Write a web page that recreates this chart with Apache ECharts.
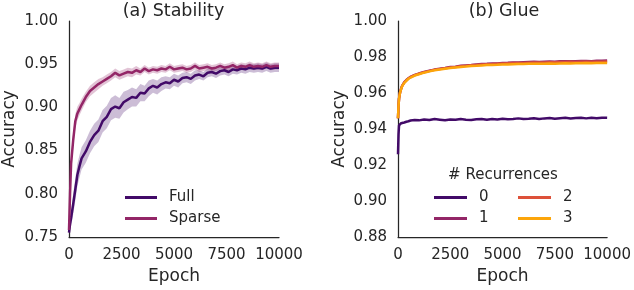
<!DOCTYPE html>
<html><head><meta charset="utf-8">
<script src="https://cdn.jsdelivr.net/npm/echarts@6/dist/echarts.min.js"></script>
<style>html,body{margin:0;padding:0;background:#fff}#c{width:634px;height:290px}</style>
</head><body><div id="c"></div>
<script>
// ---- (a) Stability ----
const epochsA = [0,50,100,200,300,400,500,600,800,
  1000,1200,1400,1600,1800,2000,
  2200,2400,2600,2800,3000,
  3200,3400,3600,3800,4000,
  4200,4400,4600,4800,5000,
  5200,5400,5600,5800,6000,
  6200,6400,6600,6800,7000,
  7200,7400,7600,7800,8000,
  8200,8400,8600,8800,9000,
  9200,9400,9600,9800,10000];
const fullMean = [0.755,0.765,0.772,0.788,0.805,0.822,0.832,0.841,0.849,
  0.860,0.868,0.873,0.884,0.889,0.898,
  0.901,0.899,0.906,0.909,0.912,
  0.911,0.917,0.916,0.922,0.925,
  0.923,0.927,0.929,0.928,0.932,
  0.930,0.934,0.935,0.933,0.937,
  0.938,0.936,0.940,0.941,0.939,
  0.942,0.943,0.941,0.944,0.943,
  0.945,0.944,0.946,0.945,0.946,
  0.945,0.947,0.945,0.946,0.946];
const fullSpread = [0.003,0.006,0.009,0.012,0.013,0.013,0.013,0.013,0.013,
  0.013,0.013,0.013,0.013,0.013,0.013,
  0.013,0.012,0.012,0.011,0.011,
  0.010,0.010,0.009,0.009,0.008,
  0.008,0.008,0.007,0.007,0.007,
  0.007,0.006,0.006,0.006,0.006,
  0.005,0.005,0.005,0.005,0.005,
  0.005,0.005,0.005,0.005,0.005,
  0.005,0.005,0.005,0.005,0.005,
  0.005,0.005,0.005,0.005,0.005];
const sparseMean = [0.758,0.800,0.835,0.862,0.884,0.893,0.898,0.903,0.912,
  0.919,0.923,0.927,0.930,0.933,0.936,
  0.940,0.937,0.939,0.941,0.940,
  0.943,0.941,0.945,0.942,0.944,
  0.943,0.945,0.944,0.947,0.944,
  0.945,0.946,0.944,0.945,0.948,
  0.945,0.946,0.947,0.945,0.946,
  0.948,0.946,0.947,0.949,0.946,
  0.948,0.947,0.949,0.947,0.948,
  0.947,0.949,0.947,0.948,0.948];
const sparseSpread = [0.003,0.008,0.010,0.009,0.008,0.008,0.007,0.007,0.006,
  0.006,0.006,0.006,0.005,0.005,0.005,
  0.005,0.005,0.005,0.005,0.005,
  0.005,0.004,0.004,0.004,0.004,
  0.004,0.004,0.004,0.004,0.004,
  0.004,0.004,0.004,0.004,0.004,
  0.004,0.004,0.004,0.004,0.004,
  0.004,0.004,0.004,0.004,0.004,
  0.004,0.004,0.004,0.004,0.004,
  0.004,0.004,0.004,0.004,0.004];
const legendA = ['Full','Sparse'];
const yTicksA = {min:0.75, max:1.00, step:0.05};

// ---- (b) Glue ----
const epochsB = [0,25,50,100,150,200,300,400,500,600,800,1000,1250,1500,1750,2000,
  2250,2500,2750,3000,3250,3500,3750,4000,4250,4500,4750,5000,5250,5500,5750,6000,
  6250,6500,6750,7000,7250,7500,7750,8000,8250,8500,8750,9000,9250,9500,9750,10000];
const rec0 = [0.926,0.937,0.942,0.9430,0.9432,0.9435,0.9436,0.9440,0.9443,0.9447,0.9450,0.9448,0.9453,0.9450,0.9455,0.9452,
  0.9449,0.9453,0.9451,0.9455,0.9452,0.9450,0.9454,0.9456,0.9452,0.9455,0.9453,0.9457,0.9454,0.9456,0.9459,0.9455,
  0.9457,0.9460,0.9456,0.9459,0.9461,0.9457,0.9460,0.9462,0.9458,0.9461,0.9463,0.9459,0.9462,0.9460,0.9463,0.9462];
const rec1 = [0.946,0.953,0.957,0.9605,0.9625,0.9640,0.9660,0.9672,0.9682,0.9690,0.9700,0.9708,0.9717,0.9724,0.9730,0.9735,
  0.9739,0.9744,0.9746,0.9751,0.9753,0.9755,0.9758,0.9761,0.9762,0.9764,0.9764,0.9767,0.9768,0.9770,0.9769,0.9771,
  0.9772,0.9773,0.9772,0.9774,0.9775,0.9774,0.9776,0.9776,0.9777,0.9776,0.9778,0.9778,0.9777,0.9779,0.9779,0.9780];
const rec2 = [0.946,0.953,0.957,0.9603,0.9623,0.9640,0.9658,0.9671,0.9681,0.9689,0.9699,0.9707,0.9716,0.9722,0.9729,0.9733,
  0.9738,0.9742,0.9745,0.9749,0.9751,0.9754,0.9756,0.9758,0.9760,0.9761,0.9763,0.9764,0.9765,0.9766,0.9767,0.9767,
  0.9768,0.9769,0.9769,0.9770,0.9771,0.9771,0.9772,0.9772,0.9773,0.9772,0.9773,0.9774,0.9773,0.9774,0.9774,0.9775];
const rec3 = [0.946,0.953,0.957,0.9604,0.9622,0.9638,0.9656,0.9668,0.9679,0.9686,0.9697,0.9704,0.9713,0.9720,0.9726,0.9731,
  0.9735,0.9739,0.9742,0.9745,0.9747,0.9750,0.9751,0.9753,0.9755,0.9756,0.9757,0.9759,0.9759,0.9760,0.9761,0.9761,
  0.9762,0.9762,0.9763,0.9763,0.9764,0.9763,0.9764,0.9765,0.9764,0.9765,0.9765,0.9766,0.9765,0.9766,0.9766,0.9766];
const legendB = ['0','1','2','3'];
const yTicksB = {min:0.88, max:1.00, step:0.02};
const xTicks = {min:0, max:10000, step:2500};

const COLORS = ['#420a68','#932667','#dd513a','#fca50a'];
const FONT = 'DejaVu Sans';
const TXT = '#262626';

function pairs(xs, ys){ return xs.map((x,i)=>[x, ys[i]]); }
function lineSeries(name, xs, ys, color, gi, w, z){
  return {type:'line', name, xAxisIndex:gi, yAxisIndex:gi, data:pairs(xs,ys), symbol:'none',
    lineStyle:{color, width:w}, itemStyle:{color}, z, emphasis:{disabled:true}};
}
function bandSeries(xs, m, s, color, gi){
  return {type:'custom', xAxisIndex:gi, yAxisIndex:gi, silent:true, z:1,
    data: xs.map((x,i)=>[x, m[i]-s[i], m[i]+s[i]]), encode:{x:0, y:[1,2]},
    renderItem:(params, api)=>{
      if (params.dataIndex !== 0) return;
      const pts = [];
      for (let i=0;i<xs.length;i++) pts.push(api.coord([xs[i], m[i]+s[i]]));
      for (let i=xs.length-1;i>=0;i--) pts.push(api.coord([xs[i], m[i]-s[i]]));
      return {type:'polygon', shape:{points:pts}, style:{fill:color, opacity:0.27}};
    }};
}
function xAx(gi){
  return {type:'value', gridIndex:gi, min:xTicks.min, max:xTicks.max, interval:xTicks.step,
    axisLine:{show:true, onZero:false, lineStyle:{color:TXT, width:1.25}}, axisTick:{show:false}, splitLine:{show:false},
    axisLabel:{color:TXT, fontSize:15, fontFamily:FONT, margin:11, formatter:v=>String(v)},
    name:'Epoch', nameLocation:'middle', nameGap:31, nameTextStyle:{color:TXT, fontSize:17, fontFamily:FONT}};
}
function yAx(gi, t, gap){
  return {type:'value', gridIndex:gi, min:t.min, max:t.max, interval:t.step,
    axisLine:{show:true, onZero:false, lineStyle:{color:TXT, width:1.25}}, axisTick:{show:false}, splitLine:{show:false},
    axisLabel:{color:TXT, fontSize:15, fontFamily:FONT, margin:11, formatter:v=>v.toFixed(2)},
    name:'Accuracy', nameLocation:'middle', nameGap:gap, nameTextStyle:{color:TXT, fontSize:17, fontFamily:FONT}};
}
const legText = {color:TXT, fontSize:15, fontFamily:FONT, padding:[0,0,0,7]};

const option = {
  animation:false,
  backgroundColor:'#fff',
  grid:[{left:68, top:21, width:211, height:220}, {left:398, top:21, width:212, height:220}],
  xAxis:[xAx(0), xAx(1)],
  yAxis:[yAx(0, yTicksA, 51), yAx(1, yTicksB, 50)],
  legend:[
    {data:legendA, orient:'vertical', left:120, top:185, itemWidth:32, itemHeight:3, itemGap:6, icon:'rect', textStyle:legText},
    {data:legendB.slice(0,2), orient:'vertical', left:429, top:185, itemWidth:33, itemHeight:3, itemGap:6, icon:'rect', textStyle:legText},
    {data:legendB.slice(2,4), orient:'vertical', left:513, top:185, itemWidth:33, itemHeight:3, itemGap:6, icon:'rect', textStyle:legText}
  ],
  graphic:[
    {type:'text', x:173.5, y:11, style:{text:'(a) Stability', fill:TXT, fontSize:17.5, fontFamily:FONT, textAlign:'center', textVerticalAlign:'middle'}},
    {type:'text', x:504, y:11, style:{text:'(b) Glue', fill:TXT, fontSize:17.5, fontFamily:FONT, textAlign:'center', textVerticalAlign:'middle'}},
    {type:'text', x:503, y:175, style:{text:'# Recurrences', fill:TXT, fontSize:15, fontFamily:FONT, textAlign:'center', textVerticalAlign:'middle'}}
  ],
  series:[
    bandSeries(epochsA, fullMean, fullSpread, COLORS[0], 0),
    bandSeries(epochsA, sparseMean, sparseSpread, COLORS[1], 0),
    lineSeries(legendA[0], epochsA, fullMean, COLORS[0], 0, 2.5, 3),
    lineSeries(legendA[1], epochsA, sparseMean, COLORS[1], 0, 2.5, 4),
    lineSeries(legendB[0], epochsB, rec0, COLORS[0], 1, 2.5, 3),
    lineSeries(legendB[1], epochsB, rec1, COLORS[1], 1, 2.5, 4),
    lineSeries(legendB[2], epochsB, rec2, COLORS[2], 1, 2.5, 5),
    lineSeries(legendB[3], epochsB, rec3, COLORS[3], 1, 2.5, 6)
  ]
};
const chart = echarts.init(document.getElementById('c'));
chart.setOption(option);
</script></body></html>
